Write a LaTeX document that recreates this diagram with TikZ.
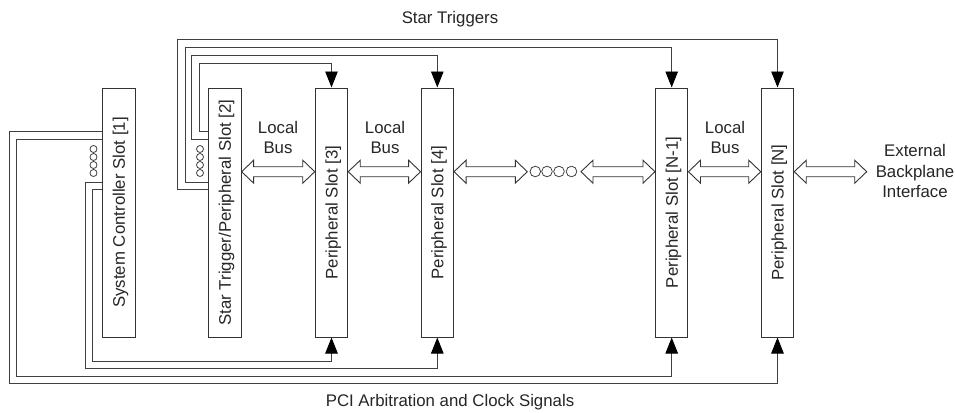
\documentclass[tikz,border=0pt]{standalone}
\usepackage{fontspec}
\setmainfont{Liberation Sans}
\usetikzlibrary{arrows.meta,calc}
\tikzset{
  lbl/.style={font=\fontsize{16.8}{20.5}\selectfont, text=black!85, inner sep=0pt, align=center},
  slot/.style={draw=black!80, line width=1pt, fill=white, minimum width=32.5pt, minimum height=249pt, inner sep=0pt, font=\fontsize{16.8}{20.5}\selectfont, text=black!85},
  wire/.style={draw=black!75, line width=0.9pt},
  sig/.style={wire, -{Triangle[length=16pt,width=12.5pt,color=black]}},
  dot/.style={draw=black!75, line width=0.8pt, circle, inner sep=0pt},
  bus/.style={draw=black!80, line width=0.9pt, fill=white, line join=miter},
}
\newcommand\slottext[1]{\rotatebox{90}{\raisebox{0pt}[\height][0pt]{#1}}}
\newcommand\busarrow[2]{%
  \path[bus] let \p1=(#1), \p2=(#2) in
    (\x1,\y1) -- (\x1+12pt,\y1+11.5pt) -- (\x1+12pt,\y1+5pt) -- (\x2-12pt,\y1+5pt)
    -- (\x2-12pt,\y1+11.5pt) -- (\x2,\y1) -- (\x2-12pt,\y1-11.5pt) -- (\x2-12pt,\y1-5pt)
    -- (\x1+12pt,\y1-5pt) -- (\x1+12pt,\y1-11.5pt) -- cycle;}
\begin{document}
\begin{tikzpicture}[x=1pt,y=1pt]
\useasboundingbox[fill=white] (0,0) rectangle (955,-412);
% level coordinates
\coordinate (busy) at (0,-171.7);
\coordinate (ya) at (0,-131.7);
\coordinate (yb) at (0,-139.3);
\coordinate (yc) at (0,-182);
\coordinate (yd) at (0,-189.7);
\coordinate (dl) at (527.3,-171.7);
\coordinate (dr) at (581,-171.7);
\coordinate (extend) at (866.7,-171.7);
% slots
\node[slot] (s1) at (118.8,-212.5) {\slottext{System Controller Slot [1]}};
\node[slot] (s2) at (224.9,-212.5) {\slottext{Star Trigger/Peripheral Slot [2]}};
\node[slot] (s3) at (331.5,-212.5) {\slottext{Peripheral Slot [3]}};
\node[slot] (s4) at (437.3,-212.5) {\slottext{Peripheral Slot [4]}};
\node[slot] (sn1) at (671.7,-212.5) {\slottext{Peripheral Slot [N-1]}};
\node[slot] (sn) at (777.5,-212.5) {\slottext{Peripheral Slot [N]}};
% star triggers
\draw[sig] (s2.west |- ya) -| (199.3,-63.3) -| (s3.north);
\draw[sig] (s2.west |- yb) -| (191.7,-55.7) -| (s4.north);
\draw[sig] (s2.west |- yc) -| (185,-47.7) -| (sn1.north);
\draw[sig] (s2.west |- yd) -| (177.3,-39) -| (sn.north);
% PCI arbitration and clock
\draw[sig] (s1.west |- ya) -| (9.3,-383.3) -| (sn.south);
\draw[sig] (s1.west |- yb) -| (16.7,-376) -| (sn1.south);
\draw[sig] (s1.west |- yc) -| (85,-368.3) -| (s4.south);
\draw[sig] (s1.west |- yd) -| (92.3,-361) -| (s3.south);
% small dots in slots
\foreach \yy [count=\i] in {149,157,165,173}{
  \node[dot, minimum size=7pt] (da\i) at (93.5,-\yy) {};
  \node[dot, minimum size=7pt] (db\i) at (200,-\yy) {};
}
% local buses
\busarrow{s2.east |- busy}{s3.west |- busy}
\busarrow{s3.east |- busy}{s4.west |- busy}
\busarrow{s4.east |- busy}{dl}
\busarrow{dr}{sn1.west |- busy}
\busarrow{sn1.east |- busy}{sn.west |- busy}
\busarrow{sn.east |- busy}{extend}
\foreach \xx [count=\i] in {535.3,547,559,571.5}{
  \node[dot, minimum size=10.6pt] (dc\i) at (\xx,-171.5) {};
}
% labels
\node[lbl, anchor=base] (st) at (450,-23.5) {Star Triggers};
\node[lbl, anchor=base] (pci) at (450,-406) {PCI Arbitration and Clock Signals};
\node[lbl] (lb1) at (278,-137.3) {Local\\Bus};
\node[lbl] (lb2) at (385,-137.3) {Local\\Bus};
\node[lbl] (lb3) at (725,-137.3) {Local\\Bus};
\node[lbl] (ext) at (915,-171) {External\\Backplane\\Interface};
\end{tikzpicture}
\end{document}
